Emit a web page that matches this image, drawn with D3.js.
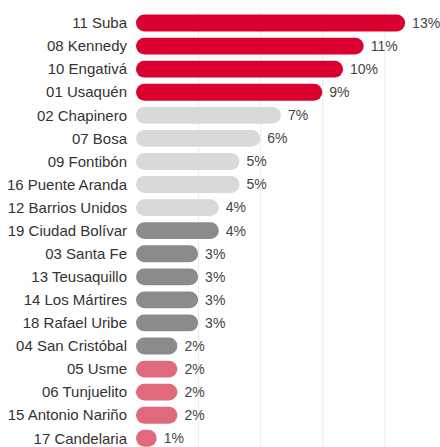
<!DOCTYPE html>
<html>
<head>
<meta charset="utf-8">
<script src="https://cdn.jsdelivr.net/npm/d3@7"></script>
<style>
  body { margin: 0; background: #fff; }
  #chart { width: 440px; height: 447px; overflow: hidden; }
  text { font-family: "Liberation Sans", Arial, sans-serif; }
</style>
</head>
<body>
<div id="chart"></div>
<script>
// data
const localidades = ["11 Suba", "08 Kennedy", "10 Engativá", "01 Usaquén", "02 Chapinero", "07 Bosa",
    "09 Fontibón", "16 Puente Aranda", "12 Barrios Unidos", "19 Ciudad Bolívar", "03 Santa Fe",
    "13 Teusaquillo", "14 Los Mártires", "18 Rafael Uribe", "04 San Cristóbal", "05 Usme",
    "06 Tunjuelito", "15 Antonio Nariño", "17 Candelaria"];
const shares = [13, 11, 10, 9, 7, 6, 5, 5, 4, 4, 3, 3, 3, 3, 2, 2, 2, 2, 1];
const groups = ["top", "top", "top", "top", "light", "light", "light", "light", "light", "dark",
    "dark", "dark", "dark", "dark", "dark", "pink", "pink", "pink", "pink"];
const gridTicks = [3, 6, 9, 12, 15];

const w = 440, h = 447;
const svg = d3.select("#chart").append("svg").attr("width", w).attr("height", h);

const x = d3.scaleLinear().domain([0, 15]).range([136, 446.5]);
const y = d3.scaleBand().domain(localidades).range([11.5, 11.5 + 19 * 23.07]).paddingInner(0.27).paddingOuter(0.135);
const color = d3.scaleOrdinal()
    .domain(["top", "light", "dark", "pink"])
    .range(["#da0030", "#d9d9d9", "#8b8b8b", "#e06a7b"]);

// Grid
svg.append("g").selectAll("line").data(gridTicks).join("line")
    .attr("x1", d => x(d) + 0.5).attr("x2", d => x(d) + 0.5)
    .attr("y1", 12).attr("y2", h)
    .attr("stroke", "#ececec").attr("stroke-width", 1);

const rows = svg.append("g").selectAll("g").data(localidades).join("g");

rows.append("rect")
    .attr("x", x(0))
    .attr("y", d => y(d))
    .attr("height", y.bandwidth())
    .attr("width", (d, i) => x(shares[i]) - x(0))
    .attr("rx", y.bandwidth() / 2)
    .attr("fill", (d, i) => color(groups[i]));

// category labels
rows.append("text")
    .attr("x", 127)
    .attr("y", d => y(d) + y.bandwidth() / 2)
    .attr("dy", "0.35em")
    .attr("text-anchor", "end")
    .attr("font-size", "15px").attr("fill", "#333")
    .text(d => d);

// value labels
rows.append("text")
    .attr("x", (d, i) => x(shares[i]) + 7)
    .attr("y", d => y(d) + y.bandwidth() / 2)
    .attr("dy", "0.35em")
    .attr("font-size", "14px").attr("fill", "#444")
    .text((d, i) => shares[i] + "%");
</script>
</body>
</html>
